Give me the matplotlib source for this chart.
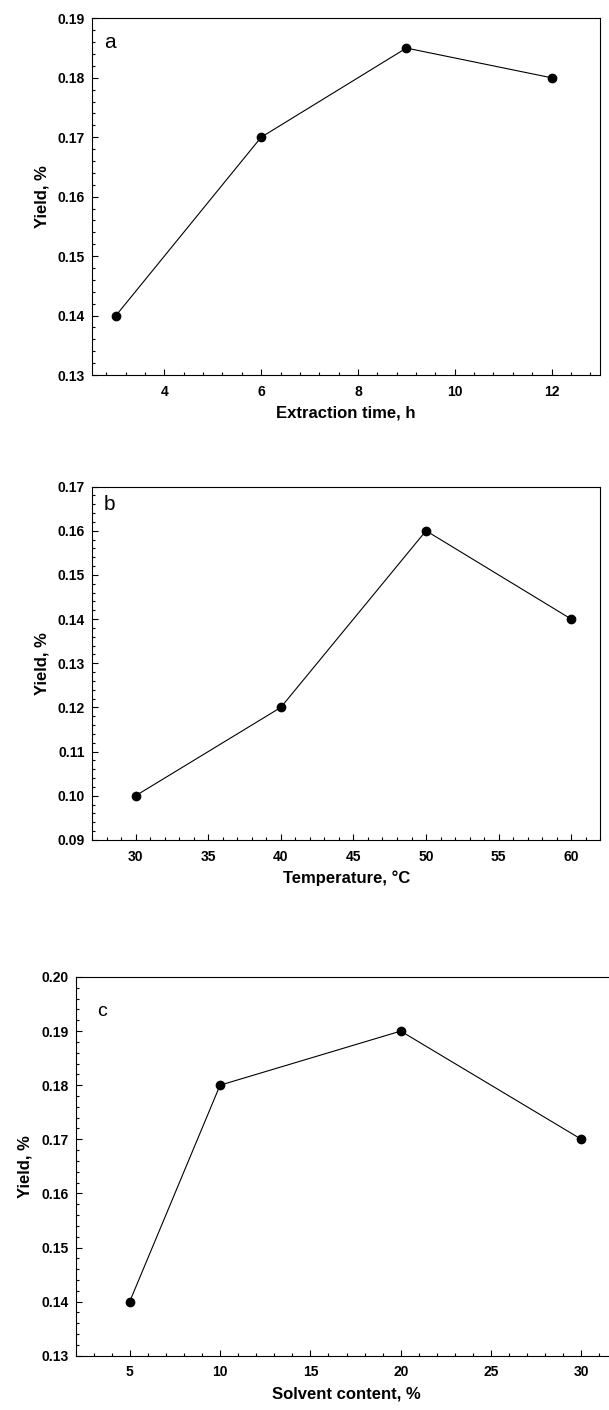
### ------------------------------ Imports ------------------------------ ###

import matplotlib
matplotlib.use("Agg")
import matplotlib.pyplot as plt # Used to plot graphs
from matplotlib.ticker import MultipleLocator, FormatStrFormatter

### ------------------------------ Data ------------------------------ ###

# a) extraction time
time_h = [3, 6, 9, 12]
yield_time = [0.140, 0.170, 0.185, 0.180]

# b) temperature
temp_c = [30, 40, 50, 60]
yield_temp = [0.100, 0.120, 0.160, 0.140]

# c) solvent content
solvent_pct = [5, 10, 20, 30]
yield_solvent = [0.140, 0.180, 0.190, 0.170]

### ------------------------------ Figure Setup ------------------------------ ###

plt.rcParams['font.family'] = ['Liberation Sans', 'DejaVu Sans']

fig = plt.figure(figsize=(6.09, 14.10), dpi=100)

def style_axis(ax, xlim, ylim, xmajor, xminor, xlabel, panel, panel_xy, panel_size):
    ax.set_xlim(*xlim)
    ax.set_ylim(*ylim)
    ax.xaxis.set_major_locator(MultipleLocator(xmajor))
    ax.xaxis.set_minor_locator(MultipleLocator(xminor))
    ax.yaxis.set_major_locator(MultipleLocator(0.01))
    ax.yaxis.set_minor_locator(MultipleLocator(0.002))
    ax.yaxis.set_major_formatter(FormatStrFormatter('%.2f'))
    ax.tick_params(which='both', direction='in', top=False, right=False, width=0.8)
    ax.tick_params(which='major', length=4)
    ax.tick_params(which='minor', length=2.5)
    ax.tick_params(axis='x', which='major', pad=7, labelsize=10)
    ax.tick_params(axis='y', which='major', pad=5, labelsize=10)
    for lbl in ax.get_xticklabels() + ax.get_yticklabels():
        lbl.set_fontweight('bold')
    for sp in ax.spines.values():
        sp.set_linewidth(0.8)
    ax.set_xlabel(xlabel, fontsize=12, fontweight='bold', labelpad=5)
    ax.set_ylabel('Yield, %', fontsize=12, fontweight='bold', labelpad=6)
    ax.text(panel_xy[0], panel_xy[1], panel, transform=ax.transAxes,
            fontsize=panel_size, ha='center', va='center')

def plot_series(ax, x, y):
    ax.plot(x, y, color='black', linewidth=0.8, marker='o', markersize=6,
            markerfacecolor='black', markeredgecolor='black', clip_on=False)

### ------------------------------ Panel a ------------------------------ ###

ax_a = fig.add_axes([0.1506, 0.7340, 0.8346, 0.2530])
plot_series(ax_a, time_h, yield_time)
style_axis(ax_a, (2.5, 13), (0.13, 0.19), 2, 0.4, 'Extraction time, h', 'a', (0.035, 0.932), 15)

### ------------------------------ Panel b ------------------------------ ###

ax_b = fig.add_axes([0.1511, 0.4043, 0.8346, 0.2506])
plot_series(ax_b, temp_c, yield_temp)
style_axis(ax_b, (27, 62), (0.09, 0.17), 5, 1, 'Temperature, °C', 'b', (0.034, 0.950), 15)

### ------------------------------ Panel c ------------------------------ ###

# right edge of this panel runs past the figure, as in the scanned original
ax_c = fig.add_axes([0.1240, 0.0385, 0.8900, 0.2686])
plot_series(ax_c, solvent_pct, yield_solvent)
style_axis(ax_c, (2, 32), (0.13, 0.20), 5, 1, 'Solvent content, %', 'c', (0.048, 0.909), 14)

fig.savefig('out.png', dpi=100)
